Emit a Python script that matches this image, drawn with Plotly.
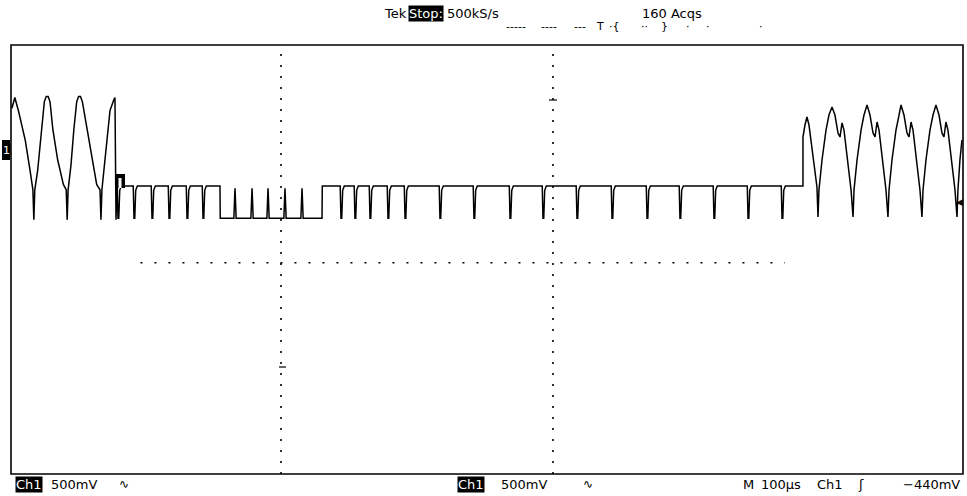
import plotly.graph_objects as go

W, H = 967, 496
L, R, T, B = 11, 4, 45, 22

# ---------------- data (time in microseconds, amplitude in volts) ----------------
burst1_t = [1, 4, 8, 15, 20, 23, 24, 25, 28, 32, 35, 37, 39, 41, 44, 49, 55, 58, 59, 60, 63,
            66, 69, 71, 73, 75, 80, 85, 90, 93.5, 94.5, 95.5, 100, 104, 108, 109.2, 110.3, 111.3]
burst1_v = [1.41, 1.51, 1.38, 1.11, 0.83, 0.65, 0.37, 0.65, 0.83, 1.21, 1.47, 1.52, 1.52, 1.47,
            1.21, 0.93, 0.70, 0.65, 0.37, 0.65, 0.88, 1.21, 1.47, 1.52, 1.52, 1.47, 1.21, 0.93,
            0.70, 0.65, 0.37, 0.65, 1.02, 1.39, 1.49, 1.51, 0.37, 0.69]

high_level = 0.685
low_level = 0.385
dips_a = [112.4, 129.2, 148.1, 166.0, 184.9, 201.7]
low_start, low_end = 219.5, 326.7
low_pulses = [235.3, 253.2, 270.0, 287.8, 305.7]
dips_b = [346.6, 361.3, 377.1, 396.0, 413.9, 450.6, 486.3, 524.2, 558.8, 594.5, 631.3,
          668.1, 702.7, 738.4, 774.2, 809.9]

burst2_t = [831.9, 831.9, 834.0, 836.1, 838.2, 841.4, 844.5, 846.6, 847.7, 848.7, 851.9, 856.1,
            859.2, 862.4, 865.5, 868.7, 870.8, 872.9, 875.0, 879.2, 882.4, 884.5, 885.5, 888.7,
            892.9, 896.0, 899.2, 902.3, 905.5, 907.6, 909.7, 911.8, 916.0, 919.1, 921.2, 922.3,
            925.4, 929.6, 932.8, 934.9, 938.0, 941.2, 943.3, 945.4, 947.5, 951.7, 954.8, 956.9,
            958.0, 961.1, 965.3, 968.5, 971.6, 974.8, 977.9, 980.0, 982.1, 984.2, 988.4, 991.6,
            993.7, 994.7, 996.8, 998.9]
burst2_v = [0.685, 1.142, 1.254, 1.329, 1.254, 1.021, 0.788, 0.676, 0.396, 0.648, 0.928, 1.207,
            1.347, 1.422, 1.347, 1.179, 1.142, 1.273, 1.207, 0.881, 0.648, 0.396, 0.648, 0.928,
            1.207, 1.347, 1.441, 1.347, 1.179, 1.142, 1.282, 1.207, 0.881, 0.648, 0.396, 0.648,
            0.928, 1.207, 1.347, 1.441, 1.347, 1.179, 1.142, 1.282, 1.207, 0.881, 0.648, 0.396,
            0.648, 0.928, 1.207, 1.347, 1.441, 1.347, 1.179, 1.142, 1.282, 1.207, 0.881, 0.648,
            0.396, 0.648, 0.928, 1.114]

graticule_t = [283.6, 569.3]
center_line = (136.0, 813.0, -0.03)

top_labels = ["Tek", "Stop:", "500kS/s", "160 Acqs"]
bottom_labels = ["Ch1", "500mV", "Ch1", "500mV", "M", "100µs", "Ch1", "ʃ", "−440mV"]

# ---------------- build trace ----------------
t, v = list(burst1_t), list(burst1_v)


def add_dip(d):
    t.extend([d - 0.8, d, d + 0.8, d + 1.8, d + 3.5])
    v.extend([high_level, low_level, low_level, high_level - 0.04, high_level])


for d in dips_a:
    add_dip(d)
t.extend([low_start, low_start + 0.3]); v.extend([high_level, low_level])
for p in low_pulses:
    t.extend([p - 1.2, p, p + 1.2]); v.extend([low_level, high_level - 0.02, low_level])
t.extend([low_end, low_end + 0.3]); v.extend([low_level, high_level])
for d in dips_b:
    add_dip(d)
t.extend(burst2_t); v.extend(burst2_v)

fig = go.Figure()
fig.add_trace(go.Scatter(x=t, y=v, mode="lines", line=dict(color="black", width=1.5),
                         hoverinfo="skip", showlegend=False))

PW, PH = W - L - R, H - T - B


def px(x):
    return (x - L) / PW


def py(y):
    return (H - B - y) / PH


shapes = []
shapes.append(dict(type="rect", xref="paper", yref="paper", x0=0, x1=1, y0=0, y1=1,
                   line=dict(color="black", width=1.6)))
for g in graticule_t:
    shapes.append(dict(type="line", xref="x", yref="paper", x0=g, x1=g, y0=0, y1=1,
                       line=dict(color="black", width=1.6, dash="2px,9px")))
shapes.append(dict(type="line", xref="x", yref="y", x0=center_line[0], x1=center_line[1],
                   y0=center_line[2], y1=center_line[2],
                   line=dict(color="black", width=1.6, dash="2px,12px")))
shapes.append(dict(type="line", xref="paper", yref="paper", x0=px(549), x1=px(557),
                   y0=py(100), y1=py(100), line=dict(color="black", width=1.2)))
shapes.append(dict(type="line", xref="paper", yref="paper", x0=px(279), x1=px(286),
                   y0=py(367), y1=py(367), line=dict(color="black", width=1.2)))
shapes.append(dict(type="rect", xref="paper", yref="paper", x0=px(115), x1=px(125),
                   y0=py(188), y1=py(174), fillcolor="black", line=dict(width=0)))
shapes.append(dict(type="rect", xref="paper", yref="paper", x0=px(118.5), x1=px(121.5),
                   y0=py(188), y1=py(178), fillcolor="white", line=dict(width=0)))
shapes.append(dict(type="rect", xref="paper", yref="paper", x0=px(2), x1=px(10),
                   y0=py(160), y1=py(140), fillcolor="black", line=dict(width=0)))

font = dict(family="DejaVu Sans", size=13, color="black")
ann = []


def text(x, y, s, inverse=False, size=13, anchor="left"):
    f = dict(font)
    f["size"] = size
    if inverse:
        f["color"] = "white"
    ann.append(dict(xref="paper", yref="paper", x=px(x), y=py(y), text=s, showarrow=False,
                    xanchor=anchor, yanchor="middle", font=f,
                    bgcolor="black" if inverse else None, borderpad=0))


text(383, 13, top_labels[0])
text(408, 13, top_labels[1], inverse=True)
text(446, 13, top_labels[2])
text(641, 13, top_labels[3])
for xx, s in [(505, "-----"), (540, "----"), (573, "---"), (595, "T"), (608, "·{"),
              (640, "··"), (660, "}"), (685, "·"), (705, "·"), (758, "·")]:
    text(xx, 26, s, size=11)

text(15, 484, bottom_labels[0], inverse=True)
text(50, 484, bottom_labels[1])
text(118, 484, "∿", size=12)
text(457, 484, bottom_labels[2], inverse=True)
text(500, 484, bottom_labels[3])
text(582, 484, "∿", size=12)
text(742, 484, bottom_labels[4])
text(760, 484, bottom_labels[5])
text(816, 484, bottom_labels[6])
text(857, 484, bottom_labels[7])
text(961, 484, bottom_labels[8], anchor="right")

text(2, 150, "1", inverse=True, size=11)
text(964, 202, "◀", size=9, anchor="right")

fig.update_layout(
    width=W, height=H, autosize=False,
    margin=dict(l=L, r=R, t=T, b=B),
    paper_bgcolor="white", plot_bgcolor="white",
    xaxis=dict(range=[0, 1000], visible=False, fixedrange=True),
    yaxis=dict(range=[-2, 2], visible=False, fixedrange=True),
    shapes=shapes, annotations=ann,
)

fig.write_html("out.html", config={"displayModeBar": False},
               post_script="document.body.style.margin='0px';")
